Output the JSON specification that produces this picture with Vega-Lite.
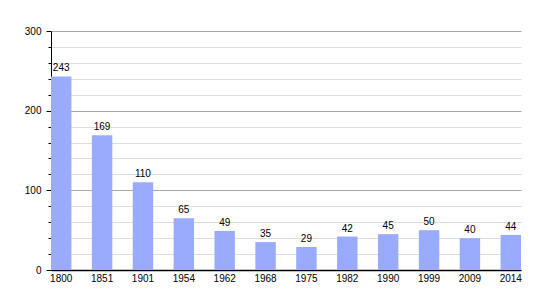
{
  "$schema": "https://vega.github.io/schema/vega-lite/v6.json",
  "autosize": "none",
  "width": 470,
  "height": 239,
  "padding": {"left": 51, "top": 31, "right": 29, "bottom": 30},
  "background": "white",
  "config": {
    "view": {"stroke": null},
    "font": "Liberation Sans",
    "axis": {"labelFont": "Liberation Sans", "labelFontSize": 10, "labelColor": "#000"}
  },
  "data": {"values": [
    {"year": "1800", "pop": 243},
    {"year": "1851", "pop": 169},
    {"year": "1901", "pop": 110},
    {"year": "1954", "pop": 65},
    {"year": "1962", "pop": 49},
    {"year": "1968", "pop": 35},
    {"year": "1975", "pop": 29},
    {"year": "1982", "pop": 42},
    {"year": "1990", "pop": 45},
    {"year": "1999", "pop": 50},
    {"year": "2009", "pop": 40},
    {"year": "2014", "pop": 44}
  ]},
  "encoding": {
    "x": {
      "field": "year", "type": "ordinal", "sort": null,
      "scale": {"paddingInner": 0.5, "paddingOuter": 0},
      "axis": {"title": null, "labelAngle": 0, "ticks": false, "domainColor": "#000", "domainWidth": 1.5, "labelPadding": 3, "grid": false}
    },
    "y": {
      "field": "pop", "type": "quantitative",
      "scale": {"domain": [0, 300], "nice": false},
      "axis": {
        "title": null,
        "values": [0,20,40,60,80,100,120,140,160,180,200,220,240,260,280,300],
        "labelExpr": "datum.value % 100 === 0 ? datum.label : ''",
        "grid": true,
        "gridColor": {"condition": {"test": "datum.value % 100 === 0", "value": "#aaaaaa"}, "value": "#dddddd"},
        "tickSize": {"condition": {"test": "datum.value % 100 === 0", "value": 5}, "value": 3},
        "tickColor": "#000",
        "domainColor": "#000",
        "labelPadding": 5
      }
    }
  },
  "layer": [
    {"mark": {"type": "bar", "color": "#9aabfd"}},
    {"mark": {"type": "text", "baseline": "bottom", "dy": -3, "fontSize": 10, "font": "Liberation Sans", "color": "#000"},
     "encoding": {"text": {"field": "pop", "type": "quantitative"}}}
  ]
}
